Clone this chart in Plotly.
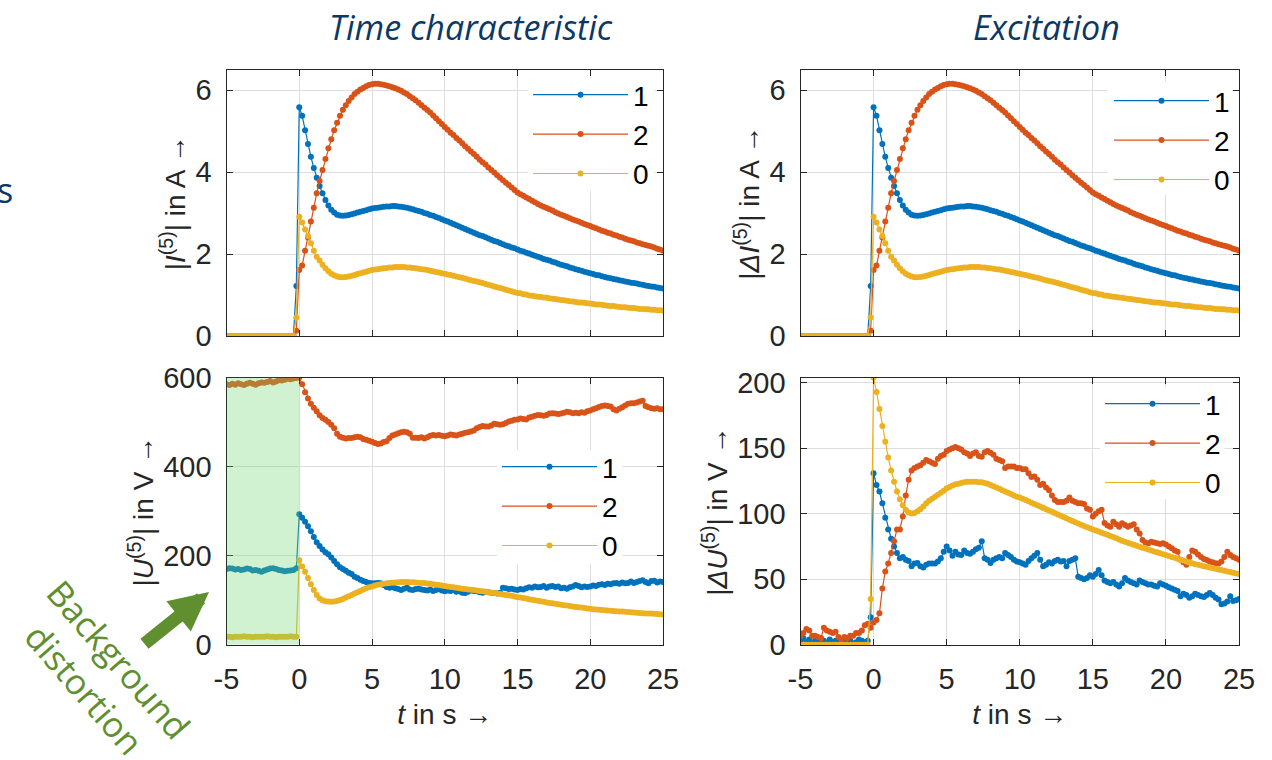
import numpy as np
import plotly.graph_objects as go

# ---------------- sampling grid (s) ----------------
T = np.round(np.arange(-5.0, 25.0001, 0.2), 1)

# ---------------- current |I(5)| (A), identical for |dI(5)| ----------------
I1_PRE = [0, 0, 0, 0, 0, 0, 0, 0, 0, 0, 0, 0, 0, 0, 0, 0, 0, 0, 0, 0, 0, 0, 0, 0, 1.22]
I1_POST = [5.58, 5.37, 5.02, 4.68, 4.37, 4.10, 3.86, 3.66, 3.48, 3.32,
           3.18, 3.08, 3.01, 2.96, 2.94, 2.93, 2.94, 2.95, 2.97, 2.99,
           3.01, 3.03, 3.05, 3.07, 3.09, 3.11, 3.12, 3.13, 3.14, 3.15,
           3.16, 3.16, 3.17, 3.17, 3.16, 3.15, 3.14, 3.13, 3.11, 3.09,
           3.07, 3.05, 3.03, 3.00, 2.98, 2.95, 2.93, 2.90, 2.88, 2.85,
           2.82, 2.79, 2.76, 2.73, 2.70, 2.67, 2.64, 2.61, 2.58, 2.55,
           2.52, 2.49, 2.46, 2.44, 2.41, 2.38, 2.35, 2.32, 2.30, 2.27,
           2.24, 2.21, 2.19, 2.16, 2.14, 2.11, 2.08, 2.06, 2.03, 2.01,
           1.98, 1.96, 1.93, 1.91, 1.88, 1.86, 1.84, 1.81, 1.79, 1.76,
           1.74, 1.72, 1.70, 1.67, 1.65, 1.63, 1.61, 1.59, 1.57, 1.55,
           1.53, 1.51, 1.49, 1.48, 1.46, 1.44, 1.42, 1.41, 1.39, 1.38,
           1.36, 1.35, 1.33, 1.32, 1.30, 1.29, 1.28, 1.26, 1.25, 1.23,
           1.22, 1.21, 1.20, 1.18, 1.17, 1.16]

I2_PRE = [0, 0, 0, 0, 0, 0, 0, 0, 0, 0, 0, 0, 0, 0, 0, 0, 0, 0, 0, 0, 0, 0, 0, 0, 0.13]
I2_POST = [1.61, 1.72, 2.08, 2.40, 2.79, 3.13, 3.48, 3.78, 4.05, 4.32,
           4.58, 4.80, 5.02, 5.20, 5.37, 5.52, 5.63, 5.73, 5.82, 5.90,
           5.96, 6.01, 6.05, 6.09, 6.12, 6.14, 6.15, 6.15, 6.14, 6.13,
           6.11, 6.09, 6.07, 6.04, 6.01, 5.98, 5.94, 5.90, 5.85, 5.80,
           5.75, 5.69, 5.63, 5.57, 5.51, 5.45, 5.38, 5.31, 5.24, 5.17,
           5.10, 5.03, 4.96, 4.90, 4.83, 4.77, 4.70, 4.63, 4.57, 4.50,
           4.44, 4.37, 4.30, 4.24, 4.18, 4.11, 4.05, 3.99, 3.92, 3.86,
           3.80, 3.74, 3.68, 3.62, 3.56, 3.50, 3.46, 3.42, 3.38, 3.34,
           3.30, 3.26, 3.22, 3.18, 3.15, 3.12, 3.09, 3.06, 3.02, 2.99,
           2.96, 2.93, 2.90, 2.87, 2.84, 2.82, 2.79, 2.76, 2.73, 2.71,
           2.68, 2.65, 2.63, 2.60, 2.57, 2.55, 2.52, 2.50, 2.47, 2.45,
           2.42, 2.40, 2.37, 2.35, 2.33, 2.31, 2.28, 2.26, 2.24, 2.22,
           2.20, 2.18, 2.16, 2.13, 2.11, 2.08]

I0_PRE = [0, 0, 0, 0, 0, 0, 0, 0, 0, 0, 0, 0, 0, 0, 0, 0, 0, 0, 0, 0, 0, 0, 0, 0, 0.45]
I0_POST = [2.91, 2.77, 2.60, 2.44, 2.26, 2.08, 1.93, 1.84, 1.74, 1.65,
           1.58, 1.52, 1.48, 1.45, 1.43, 1.43, 1.44, 1.45, 1.47, 1.49,
           1.51, 1.53, 1.55, 1.57, 1.59, 1.61, 1.62, 1.63, 1.64, 1.65,
           1.66, 1.67, 1.67, 1.68, 1.68, 1.68, 1.68, 1.67, 1.67, 1.66,
           1.65, 1.64, 1.63, 1.62, 1.61, 1.59, 1.58, 1.56, 1.55, 1.53,
           1.52, 1.50, 1.49, 1.47, 1.45, 1.43, 1.42, 1.40, 1.38, 1.36,
           1.34, 1.33, 1.31, 1.29, 1.27, 1.25, 1.23, 1.21, 1.19, 1.17,
           1.15, 1.13, 1.11, 1.09, 1.07, 1.05, 1.04, 1.02, 1.01, 0.99,
           0.98, 0.97, 0.96, 0.95, 0.94, 0.93, 0.92, 0.91, 0.90, 0.89,
           0.88, 0.87, 0.86, 0.85, 0.84, 0.83, 0.82, 0.82, 0.81, 0.80,
           0.79, 0.78, 0.77, 0.77, 0.76, 0.75, 0.74, 0.73, 0.73, 0.72,
           0.71, 0.70, 0.70, 0.69, 0.68, 0.68, 0.67, 0.66, 0.66, 0.65,
           0.65, 0.64, 0.64, 0.63, 0.63, 0.62]

# ---------------- voltage |U(5)| (V) ----------------
U1_PRE = [170, 172, 171, 169, 170, 168, 169, 171, 170, 167, 168, 166, 164,
          167, 169, 171, 172, 170, 168, 167, 165, 166, 167, 168, 172]
U1_POST = [293, 285, 276, 266, 255, 242, 230, 222, 214, 208,
           203, 196, 188, 181, 174, 170, 166, 162, 159, 153,
           150, 146, 143, 141, 139, 138, 138, 139, 138, 134,
           130, 128, 129, 127, 125, 123, 126, 128, 124, 123,
           125, 126, 124, 123, 122, 124, 121, 123, 125, 122,
           120, 122, 121, 123, 119, 120, 117, 116, 119, 122,
           121, 120, 118, 117, 119, 118, 117, 116, 115, 117,
           128, 127, 125, 126, 124, 123, 125, 124, 127, 129,
           128, 131, 129, 130, 132, 128, 131, 132, 130, 131,
           127, 128, 126, 129, 131, 134, 132, 129, 131, 130,
           131, 133, 132, 135, 136, 134, 137, 136, 138, 139,
           137, 140, 138, 139, 142, 139, 141, 143, 145, 141,
           138, 143, 144, 140, 142, 141]

U2_PRE = [585, 583, 586, 584, 587, 585, 583, 586, 588, 586, 584, 587, 589,
          588, 590, 592, 589, 591, 594, 593, 595, 597, 596, 598, 599]
U2_POST = [600, 585, 567, 553, 541, 532, 524, 515, 509, 505,
           500, 494, 486, 474, 467, 465, 463, 464, 464, 466,
           467, 466, 462, 460, 458, 456, 453, 451, 452, 455,
           457, 464, 470, 472, 475, 477, 478, 477, 474, 465,
           465, 464, 466, 463, 466, 469, 471, 470, 471, 469,
           468, 470, 472, 471, 470, 472, 474, 476, 477, 479,
           481, 486, 489, 491, 490, 490, 492, 496, 495, 494,
           495, 498, 501, 503, 505, 506, 508, 507, 506, 510,
           512, 514, 516, 515, 514, 516, 519, 520, 519, 518,
           519, 521, 523, 522, 520, 521, 520, 522, 521, 524,
           526, 529, 531, 534, 536, 537, 536, 535, 529, 526,
           530, 533, 537, 541, 542, 542, 544, 546, 548, 536,
           533, 531, 530, 531, 529, 529]

U0_PRE = [18, 18, 17, 18, 18, 18, 19, 18, 18, 17, 18, 18, 18,
          18, 19, 18, 18, 17, 18, 18, 18, 18, 19, 18, 18]
U0_POST = [190, 176, 164, 150, 136, 123, 112, 104, 100, 98,
           97, 96.5, 97, 98.5, 100.5, 103, 106, 109, 112, 115,
           118, 121, 124, 127, 129, 131, 133, 135, 136, 137,
           138, 139, 139.5, 140, 140.5, 141, 141, 141, 140.5, 140.5,
           140, 139.5, 139, 138.5, 137.5, 137, 136, 135, 134, 133,
           132, 131, 130, 129, 128, 127, 126, 125, 124, 123.5,
           123, 122, 121, 120, 119, 118, 117, 116, 115, 114,
           113, 112, 111, 110, 108.5, 107, 106, 105, 104, 102.5,
           101, 100, 99, 98, 96.5, 95, 94, 93, 92, 91,
           90, 89, 88, 87, 86, 85, 84.5, 83.5, 82.5, 81.5,
           81, 80, 79.5, 78.5, 78, 77.5, 77, 76.5, 76, 75.5,
           75, 74.5, 74, 73.5, 73, 72.5, 72, 71.5, 71, 70.5,
           70.5, 70, 69.5, 69, 68.5, 68]

# ---------------- excitation |dU(5)| (V) ----------------
DU1_PRE = [3, 5, 2, 4, 1, 3, 2, 5, 3, 1, 4, 2, 3, 4, 2, 3, 5, 3, 1, 2, 4, 3, 2, 3, 21]
DU1_POST = [131, 122, 117, 108, 97, 88, 81, 75, 70, 66,
            67, 65, 64, 60, 62, 62.5, 60, 59, 61, 62,
            62, 62, 63.5, 66, 71, 75, 72, 68, 71, 69,
            68.5, 72, 70, 69.5, 71, 73, 74, 79, 66, 65,
            62.5, 65, 66, 67, 66, 70, 68.5, 67, 65, 63.5,
            63, 62, 61, 64, 66, 68, 70, 65, 60, 61,
            63, 62, 64, 65, 63.5, 64, 60, 64, 65, 66,
            52, 51, 50, 51, 53, 52, 54, 57, 53, 49,
            48, 47, 48, 46, 44.5, 47, 51, 49, 48, 47,
            46, 49, 48, 47, 46, 46, 45, 44.5, 47, 46,
            45, 44, 43, 42, 41, 37, 39, 38, 36, 37,
            39, 38, 37, 36.5, 38, 39.5, 38, 36, 34.5, 31,
            31.5, 33, 37, 33.5, 34, 35]

DU2_PRE = [7, 9, 12, 11, 7, 7, 6, 5, 13, 11, 10, 9, 10, 6, 4, 6, 5, 7, 7, 9, 9, 11, 15, 16, 13]
DU2_POST = [17, 19, 24, 43, 56, 62, 70, 79, 88, 88,
            98, 114, 126, 133, 135, 136, 137, 139, 141, 140,
            139, 138, 142, 144, 145, 148, 149, 150, 151, 150,
            149, 147, 146, 144, 146, 147, 144, 143.5, 147, 148,
            146.5, 145, 142, 141, 140, 135, 136, 136, 136, 135,
            135, 134, 134, 131, 128, 128.5, 126, 122, 123, 120,
            118, 114, 110.5, 109, 109, 109, 110, 112.5, 110, 109,
            108, 108, 107.5, 104, 103, 98, 100, 102, 103, 93,
            91, 90, 94, 92, 90, 92.7, 91.5, 90, 91, 92,
            88, 85, 80, 78, 77.5, 78.6, 78, 77.5, 77, 77.5,
            76.5, 75, 73.6, 72, 71, 65, 63, 61, 67, 72,
            71, 69, 67, 65.5, 64.7, 63.5, 63, 62.3, 62, 63.5,
            67, 71, 68.6, 67, 66, 65]

DU0_PRE = [0, 0, 0, 0, 0, 0, 0, 0, 0, 0, 0, 0, 0, 0, 0, 0, 0, 0, 0, 0, 0, 0, 0, 0, 35]
DU0_POST = [204, 193, 180, 167, 155, 143, 133, 124.5, 117, 111,
            106.5, 103, 101, 100.3, 100.5, 102, 103.5, 105.5, 108, 110,
            111.5, 113, 114.5, 116, 117.5, 119.5, 120.5, 121.5, 122.5, 123,
            123.5, 124, 124.5, 124.5, 124.5, 124.5, 124, 124, 123.5, 123,
            122, 121, 120, 119, 118, 117, 116, 115, 114, 113,
            112.5, 111.5, 110.5, 109.5, 108.5, 107.5, 106.5, 105.5, 104.5, 103.5,
            102.5, 101.5, 100.5, 99.5, 98.5, 97.5, 96.5, 95.5, 94.5, 93.5,
            92.5, 91.6, 90.7, 89.8, 88.9, 88, 87.2, 86.4, 85.6, 84.8,
            84, 83.1, 82.2, 81.3, 80.4, 79.5, 78.7, 77.9, 77.1, 76.3,
            75.5, 74.8, 74.1, 73.4, 72.7, 72, 71.3, 70.6, 69.9, 69.2,
            68.5, 67.8, 67.1, 66.4, 65.7, 65, 64.3, 63.6, 62.9, 62.2,
            61.5, 61, 60.5, 60, 59.5, 59, 58.5, 58, 57.5, 57,
            56.5, 56, 55.5, 55, 54.5, 54]

SERIES_NAMES = ["1", "2", "0"]
COLORS = ["#0072BD", "#D95319", "#EDB120"]
X_TICKS = [-5, 0, 5, 10, 15, 20, 25]
X_TICK_TEXT = ["-5", "0", "5", "10", "15", "20", "25"]

PANELS = [
    ("x", "y", "legend", [I1_PRE + I1_POST, I2_PRE + I2_POST, I0_PRE + I0_POST]),
    ("x2", "y2", "legend2", [I1_PRE + I1_POST, I2_PRE + I2_POST, I0_PRE + I0_POST]),
    ("x3", "y3", "legend3", [U1_PRE + U1_POST, U2_PRE + U2_POST, U0_PRE + U0_POST]),
    ("x4", "y4", "legend4", [DU1_PRE + DU1_POST, DU2_PRE + DU2_POST, DU0_PRE + DU0_POST]),
]

FONT_FAMILY = "Liberation Sans, Arial, sans-serif"
TICK_FONT = dict(family=FONT_FAMILY, size=29, color="#262626")
W, H = 1272, 760

fig = go.Figure()
for xa, ya, lg, series in PANELS:
    for name, col, vals in zip(SERIES_NAMES, COLORS, series):
        fig.add_trace(go.Scatter(
            x=T, y=vals, name=name, xaxis=xa, yaxis=ya, legend=lg,
            mode="lines+markers",
            line=dict(color=col, width=1.2),
            marker=dict(color=col, size=6),
            hoverinfo="skip",
        ))


def px_x(p):
    return p / W


def px_y(p):
    return 1 - p / H


def axis_common():
    return dict(showline=True, linecolor="#262626", linewidth=1.2, mirror="ticks",
                ticks="inside", ticklen=6, tickcolor="#262626", tickwidth=1.2,
                showgrid=True, gridcolor="#dedede", gridwidth=1, zeroline=False,
                tickfont=TICK_FONT, ticklabelstandoff=8, automargin=False)


XL = [px_x(226.5), px_x(663)]
XR = [px_x(800.5), px_x(1239)]
YT = [px_y(336), px_y(69.5)]
YB = [px_y(644.8), px_y(377.5)]

xt = dict(range=[-5, 25], tickmode="array", tickvals=X_TICKS, ticktext=X_TICK_TEXT)
title_font = dict(family=FONT_FAMILY, size=28, color="#262626")
xtitle = dict(text="<i>t</i> in s →", font=title_font, standoff=10)
YS = 1

fig.update_layout(
    width=W, height=H, margin=dict(l=0, r=0, t=0, b=0, autoexpand=False),
    paper_bgcolor="white", plot_bgcolor="white",
    xaxis=dict(**axis_common(), **xt, domain=XL, anchor="y", showticklabels=False),
    xaxis2=dict(**axis_common(), **xt, domain=XR, anchor="y2", showticklabels=False),
    xaxis3=dict(**axis_common(), **xt, domain=XL, anchor="y3", title=xtitle),
    xaxis4=dict(**axis_common(), **xt, domain=XR, anchor="y4", title=xtitle),
    yaxis=dict(**axis_common(), range=[0, 6.5], tickvals=[0, 2, 4, 6], domain=YT, anchor="x",
               title=dict(text="|<i>I</i><sup>(5)</sup>| in A →", font=title_font, standoff=YS)),
    yaxis2=dict(**axis_common(), range=[0, 6.5], tickvals=[0, 2, 4, 6], domain=YT, anchor="x2",
                title=dict(text="|<i>ΔI</i><sup>(5)</sup>| in A →", font=title_font, standoff=YS)),
    yaxis3=dict(**axis_common(), range=[0, 600], tickvals=[0, 200, 400, 600], domain=YB, anchor="x3",
                title=dict(text="|<i>U</i><sup>(5)</sup>| in V →", font=title_font, standoff=YS)),
    yaxis4=dict(**axis_common(), range=[0, 204], tickvals=[0, 50, 100, 150, 200], domain=YB, anchor="x4",
                title=dict(text="|<i>ΔU</i><sup>(5)</sup>| in V →", font=title_font, standoff=YS)),
    showlegend=True,
)

legend_common = dict(xanchor="left", yanchor="top", bgcolor="rgba(255,255,255,0)", borderwidth=0,
                     font=dict(family=FONT_FAMILY, size=28, color="black"),
                     itemwidth=95, tracegroupgap=0)
fig.update_layout(
    legend=dict(**legend_common, x=px_x(528), y=px_y(70)),
    legend2=dict(**legend_common, x=px_x(1109), y=px_y(76)),
    legend3=dict(**legend_common, x=px_x(497), y=px_y(442)),
    legend4=dict(**legend_common, x=px_x(1100), y=px_y(379)),
)

# white legend boxes: hide the grid behind each legend but not the data
LEGEND_BOXES = [
    ("x", "y", 15.7, 24.4, 3.55, 6.29),
    ("x2", "y2", 16.0, 24.5, 3.45, 6.2),
    ("x3", "y3", 13.6, 22.2, 182, 437),
    ("x4", "y4", 15.5, 24.0, 111, 197),
]
for xr, yr, bx0, bx1, by0, by1 in LEGEND_BOXES:
    fig.add_shape(type="rect", xref=xr, yref=yr, x0=bx0, x1=bx1, y0=by0, y1=by1,
                  fillcolor="white", line=dict(width=0), layer="between")

# shaded background-distortion window
fig.add_shape(type="rect", xref="x3", yref="y3", x0=-5, x1=0, y0=0, y1=600,
              fillcolor="rgba(110,215,110,0.32)", line=dict(width=0), layer="above")

NAVY = "#0c3865"
GREEN = "#5f8f2f"
annos = [
    dict(text="<i>Time characteristic</i>", x=px_x(471), y=px_y(27)),
    dict(text="<i>Excitation</i>", x=px_x(1046), y=px_y(27)),
]
for a in annos:
    fig.add_annotation(xref="paper", yref="paper", showarrow=False, xanchor="center", yanchor="middle",
                       font=dict(family="Open Sans, sans-serif", size=34, color=NAVY), **a)
fig.add_annotation(xref="paper", yref="paper", showarrow=False, text="s", x=0, y=px_y(190),
                   xanchor="left", yanchor="middle", xshift=-5,
                   font=dict(family="Open Sans, sans-serif", size=34, color=NAVY))
fig.add_annotation(xref="paper", yref="paper", showarrow=False, text="Background<br>distortion",
                   x=px_x(102), y=px_y(674), xanchor="center", yanchor="middle", textangle=49,
                   font=dict(family="Open Sans, sans-serif", size=35, color=GREEN))
fig.add_annotation(xref="paper", yref="paper", x=px_x(209), y=px_y(592), text="",
                   showarrow=True, ax=-66, ay=53, arrowhead=2, arrowsize=0.6, arrowwidth=13,
                   arrowcolor=GREEN, standoff=0, startstandoff=0)

fig.write_html("out.html")
